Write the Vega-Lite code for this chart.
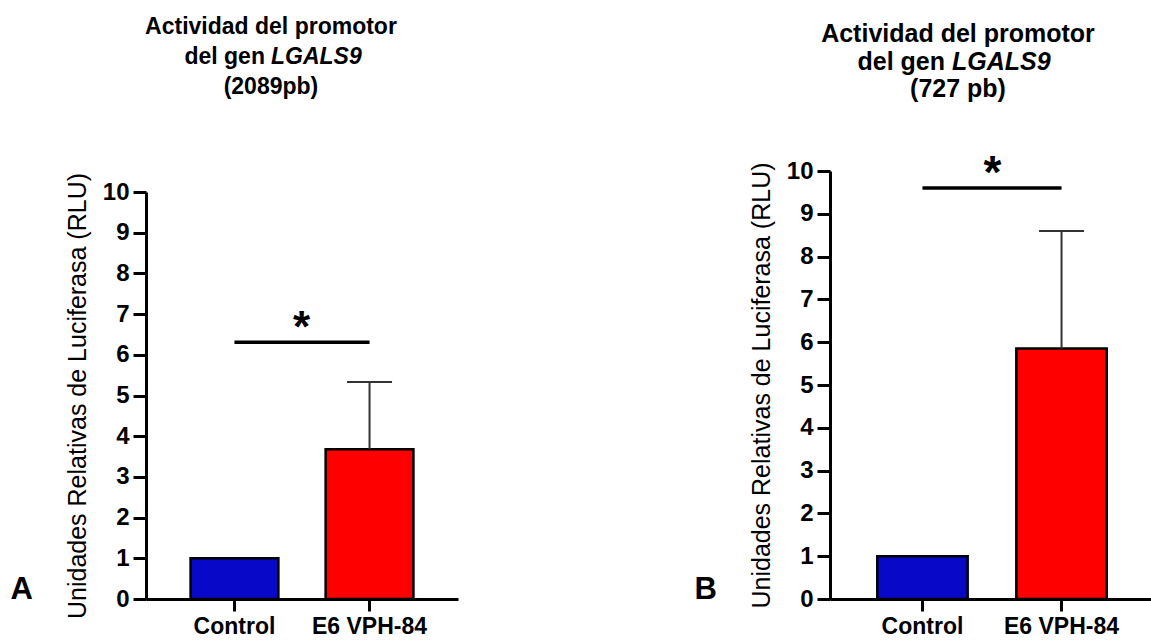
{
  "$schema": "https://vega.github.io/schema/vega-lite/v6.json",
  "padding": {"left": 10, "top": 16, "right": 0, "bottom": 0},
  "background": "white",
  "spacing": 236,
  "config": {
    "font": "Liberation Sans",
    "view": {"stroke": null},
    "axis": {"grid": false, "domainColor": "black", "tickColor": "black", "labelColor": "black", "titleColor": "black", "domainWidth": 3, "tickWidth": 3, "labelFont": "Liberation Sans", "titleFont": "Liberation Sans"},
    "axisX": {"tickSize": 12, "labelFontSize": 23, "labelFontWeight": "bold", "labelPadding": 4, "labelAngle": 0, "title": null},
    "axisY": {"tickSize": 13, "labelFontSize": 24, "labelFontWeight": "bold", "labelPadding": 4, "titleFontSize": 25, "titleFontWeight": "normal", "titlePadding": 12, "values": [0, 1, 2, 3, 4, 5, 6, 7, 8, 9, 10]},
    "title": {"font": "Liberation Sans", "fontWeight": "bold", "color": "black"}
  },
  "datasets": {
    "barsA": [
      {"group": "Control", "mean": 1.0, "upper": null},
      {"group": "E6 VPH-84", "mean": 3.68, "upper": 5.33}
    ],
    "barsB": [
      {"group": "Control", "mean": 1.0, "upper": null},
      {"group": "E6 VPH-84", "mean": 5.85, "upper": 8.6}
    ],
    "sigA": [{"from": "Control", "to": "E6 VPH-84", "level": 6.31, "label": "*"}],
    "sigB": [{"from": "Control", "to": "E6 VPH-84", "level": 9.6, "label": "*"}]
  },
  "hconcat": [
    {
      "width": 312,
      "height": 428,
      "title": {"text": "A", "orient": "left", "anchor": "start", "frame": "group", "angle": 0, "align": "right", "baseline": "alphabetic", "fontSize": 31, "offset": 10},
      "layer": [
        {
          "data": {"name": "barsA"},
          "mark": {"type": "bar", "stroke": "black", "strokeWidth": 2.5},
          "encoding": {
            "x": {"field": "group", "type": "nominal", "sort": null, "scale": {"paddingInner": 0.35, "paddingOuter": 0.33}},
            "y": {"field": "mean", "type": "quantitative", "scale": {"domain": [0, 10], "nice": false, "range": [428, 21]}, "axis": {"title": "Unidades Relativas de Luciferasa (RLU)"}},
            "color": {"field": "group", "type": "nominal", "sort": null, "scale": {"domain": ["Control", "E6 VPH-84"], "range": ["#0808C8", "#FF0000"]}, "legend": null}
          }
        },
        {
          "data": {"name": "barsA"},
          "transform": [{"filter": "isValid(datum.upper)"}],
          "mark": {"type": "rule", "color": "#333333", "strokeWidth": 2},
          "encoding": {
            "x": {"field": "group", "type": "nominal", "sort": null},
            "y": {"field": "mean", "type": "quantitative"},
            "y2": {"field": "upper"}
          }
        },
        {
          "data": {"name": "barsA"},
          "transform": [{"filter": "isValid(datum.upper)"}],
          "mark": {"type": "tick", "color": "#333333", "thickness": 2, "size": 45, "opacity": 1},
          "encoding": {
            "x": {"field": "group", "type": "nominal", "sort": null},
            "y": {"field": "upper", "type": "quantitative"}
          }
        },
        {
          "data": {"name": "sigA"},
          "mark": {"type": "rule", "color": "black", "strokeWidth": 3.5},
          "encoding": {
            "x": {"field": "from", "type": "nominal", "sort": null},
            "x2": {"field": "to"},
            "y": {"field": "level", "type": "quantitative"}
          }
        },
        {
          "data": {"name": "sigA"},
          "mark": {"type": "text", "fontSize": 44, "fontWeight": "bold", "dx": 67, "baseline": "alphabetic", "color": "black"},
          "encoding": {
            "x": {"field": "from", "type": "nominal", "sort": null},
            "y": {"field": "level", "type": "quantitative"},
            "text": {"field": "label"}
          }
        },
        {
          "data": {"values": [{}]},
          "mark": {"type": "text", "text": "Actividad del promotor", "fontSize": 23, "fontWeight": "bold", "align": "center", "baseline": "alphabetic", "dx": 36.5, "color": "black"},
          "encoding": {"x": {"datum": "Control", "type": "nominal"}, "y": {"datum": 13.88, "type": "quantitative"}}
        },
        {
          "data": {"values": [{}]},
          "mark": {"type": "text", "text": "del gen", "fontSize": 23, "fontWeight": "bold", "align": "right", "baseline": "alphabetic", "dx": 30.5, "color": "black"},
          "encoding": {"x": {"datum": "Control", "type": "nominal"}, "y": {"datum": 13.14, "type": "quantitative"}}
        },
        {
          "data": {"values": [{}]},
          "mark": {"type": "text", "text": "LGALS9", "fontSize": 23, "fontWeight": "bold", "fontStyle": "italic", "align": "left", "baseline": "alphabetic", "dx": 36.5, "color": "black"},
          "encoding": {"x": {"datum": "Control", "type": "nominal"}, "y": {"datum": 13.14, "type": "quantitative"}}
        },
        {
          "data": {"values": [{}]},
          "mark": {"type": "text", "text": "(2089pb)", "fontSize": 23, "fontWeight": "bold", "align": "center", "baseline": "alphabetic", "dx": 36.5, "color": "black"},
          "encoding": {"x": {"datum": "Control", "type": "nominal"}, "y": {"datum": 12.41, "type": "quantitative"}}
        }
      ]
    },
    {
      "width": 324,
      "height": 428,
      "title": {"text": "B", "orient": "left", "anchor": "start", "frame": "group", "angle": 0, "align": "right", "baseline": "alphabetic", "fontSize": 31, "offset": 10},
      "layer": [
        {
          "data": {"name": "barsB"},
          "mark": {"type": "bar", "stroke": "black", "strokeWidth": 2.5},
          "encoding": {
            "x": {"field": "group", "type": "nominal", "sort": null, "scale": {"paddingInner": 0.35, "paddingOuter": 0.34}},
            "y": {"field": "mean", "type": "quantitative", "scale": {"domain": [0, 10], "nice": false}, "axis": {"title": "Unidades Relativas de Luciferasa (RLU)"}},
            "color": {"field": "group", "type": "nominal", "sort": null, "scale": {"domain": ["Control", "E6 VPH-84"], "range": ["#0808C8", "#FF0000"]}, "legend": null}
          }
        },
        {
          "data": {"name": "barsB"},
          "transform": [{"filter": "isValid(datum.upper)"}],
          "mark": {"type": "rule", "color": "#333333", "strokeWidth": 2},
          "encoding": {
            "x": {"field": "group", "type": "nominal", "sort": null},
            "y": {"field": "mean", "type": "quantitative"},
            "y2": {"field": "upper"}
          }
        },
        {
          "data": {"name": "barsB"},
          "transform": [{"filter": "isValid(datum.upper)"}],
          "mark": {"type": "tick", "color": "#333333", "thickness": 2, "size": 45, "opacity": 1},
          "encoding": {
            "x": {"field": "group", "type": "nominal", "sort": null},
            "y": {"field": "upper", "type": "quantitative"}
          }
        },
        {
          "data": {"name": "sigB"},
          "mark": {"type": "rule", "color": "black", "strokeWidth": 3.5},
          "encoding": {
            "x": {"field": "from", "type": "nominal", "sort": null},
            "x2": {"field": "to"},
            "y": {"field": "level", "type": "quantitative"}
          }
        },
        {
          "data": {"name": "sigB"},
          "mark": {"type": "text", "fontSize": 46, "fontWeight": "bold", "dx": 70, "baseline": "alphabetic", "color": "black"},
          "encoding": {
            "x": {"field": "from", "type": "nominal", "sort": null},
            "y": {"field": "level", "type": "quantitative"},
            "text": {"field": "label"}
          }
        },
        {
          "data": {"values": [{}]},
          "mark": {"type": "text", "text": "Actividad del promotor", "fontSize": 25, "fontWeight": "bold", "align": "center", "baseline": "alphabetic", "dx": 35.5, "color": "black"},
          "encoding": {"x": {"datum": "Control", "type": "nominal"}, "y": {"datum": 13.02, "type": "quantitative"}}
        },
        {
          "data": {"values": [{}]},
          "mark": {"type": "text", "text": "del gen", "fontSize": 25, "fontWeight": "bold", "align": "right", "baseline": "alphabetic", "dx": 22.5, "color": "black"},
          "encoding": {"x": {"datum": "Control", "type": "nominal"}, "y": {"datum": 12.36, "type": "quantitative"}}
        },
        {
          "data": {"values": [{}]},
          "mark": {"type": "text", "text": "LGALS9", "fontSize": 25, "fontWeight": "bold", "fontStyle": "italic", "align": "left", "baseline": "alphabetic", "dx": 29.5, "color": "black"},
          "encoding": {"x": {"datum": "Control", "type": "nominal"}, "y": {"datum": 12.36, "type": "quantitative"}}
        },
        {
          "data": {"values": [{}]},
          "mark": {"type": "text", "text": "(727 pb)", "fontSize": 25, "fontWeight": "bold", "align": "center", "baseline": "alphabetic", "dx": 35.5, "color": "black"},
          "encoding": {"x": {"datum": "Control", "type": "nominal"}, "y": {"datum": 11.73, "type": "quantitative"}}
        }
      ]
    }
  ]
}
